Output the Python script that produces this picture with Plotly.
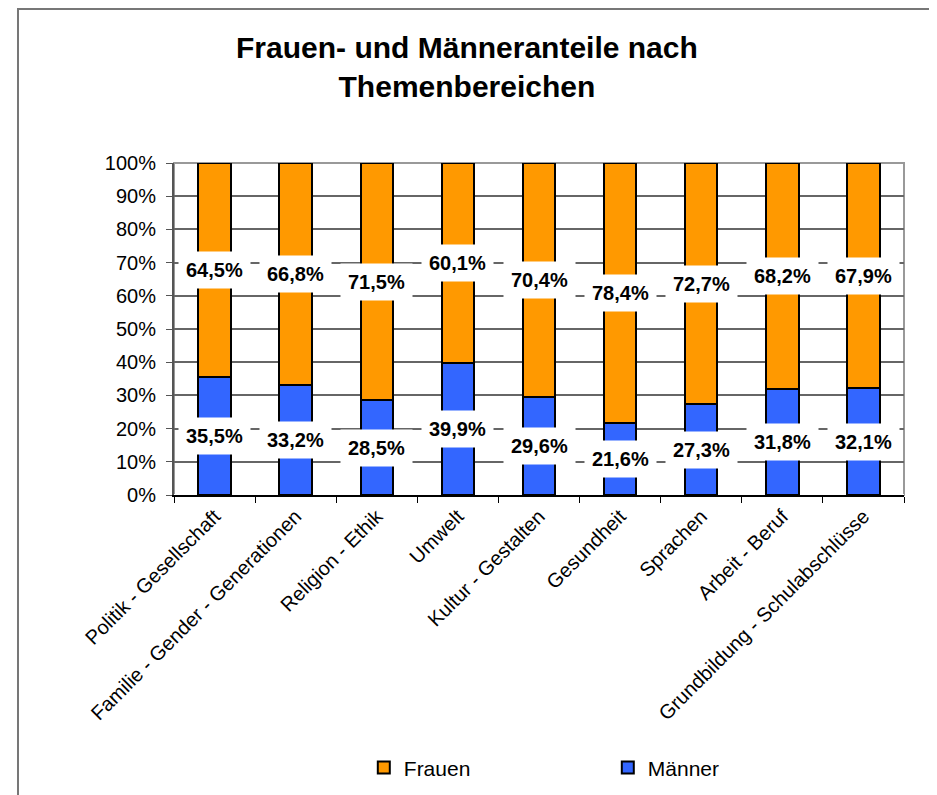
import plotly.graph_objects as go

categories = ["Politik - Gesellschaft", "Familie - Gender - Generationen", "Religion - Ethik",
              "Umwelt", "Kultur - Gestalten", "Gesundheit", "Sprachen", "Arbeit - Beruf",
              "Grundbildung - Schulabschlüsse"]
maenner = [35.5, 33.2, 28.5, 39.9, 29.6, 21.6, 27.3, 31.8, 32.1]
frauen = [64.5, 66.8, 71.5, 60.1, 70.4, 78.4, 72.7, 68.2, 67.9]

FONT = "Liberation Sans, Arial, sans-serif"

def fmt(v):
    return f"{v:.1f}".replace(".", ",") + "%"

fig = go.Figure()
fig.add_trace(go.Bar(x=categories, y=[v / 100 for v in maenner], name="Männer",
                     marker=dict(color="#3366FF", line=dict(color="black", width=2)),
                     width=0.4))
fig.add_trace(go.Bar(x=categories, y=[v / 100 for v in frauen], name="Frauen",
                     marker=dict(color="#FF9900", line=dict(color="black", width=2)),
                     width=0.4))

annotations = []
for c, m, f in zip(categories, maenner, frauen):
    annotations.append(dict(x=c, y=m / 200, text="<b>" + fmt(m) + "</b>", showarrow=False,
                            bgcolor="white", borderpad=7,
                            font=dict(family=FONT, size=20, color="black")))
    annotations.append(dict(x=c, y=(m + f / 2) / 100, text="<b>" + fmt(f) + "</b>", showarrow=False,
                            bgcolor="white", borderpad=7,
                            font=dict(family=FONT, size=20, color="black")))

fig.update_layout(
    barmode="stack",
    width=929, height=787,
    margin=dict(l=166, r=33, t=155, b=300, autoexpand=False),
    paper_bgcolor="white", plot_bgcolor="white",
    font=dict(family=FONT, size=20, color="black"),
    title=dict(text="<b>Frauen- und Männeranteile nach<br>Themenbereichen</b>",
               x=0.494, xanchor="center", xref="container", y=0.936, yanchor="top", yref="container",
               font=dict(family=FONT, size=30, color="black")),
    showlegend=True,
    legend=dict(orientation="h", x=0.26, xanchor="left", y=-0.76, yanchor="top",
                traceorder="reversed",
                entrywidth=199, entrywidthmode="pixels",
                font=dict(family=FONT, size=21, color="black"), itemwidth=30),
    annotations=annotations,
    shapes=[dict(type="rect", xref="paper", yref="paper", x0=-0.2137, x1=1.0397, y0=-0.96, y1=1.4639,
                 line=dict(color="#777777", width=2), layer="below")],
)
fig.update_xaxes(showline=True, linecolor="#000000", linewidth=1.5, mirror=False, automargin=False,
                 ticks="outside", tickson="boundaries", ticklen=6, tickcolor="black",
                 tickangle=-45, tickfont=dict(family=FONT, size=20), showgrid=False)
fig.update_yaxes(range=[0, 1], dtick=0.1, tickformat=".0%", showline=True, linecolor="#555555",
                 linewidth=2, ticks="outside", ticklen=6, tickcolor="#555555", automargin=False,
                 showgrid=True, gridcolor="#666666", gridwidth=1.5,
                 tickfont=dict(family=FONT, size=20), ticklabelstandoff=6)
# plot-area border (top and right)
fig.add_shape(type="rect", xref="paper", yref="paper", x0=0, x1=1, y0=0, y1=1,
              line=dict(color="#999999", width=2), layer="below")

fig.write_html("out.html")
